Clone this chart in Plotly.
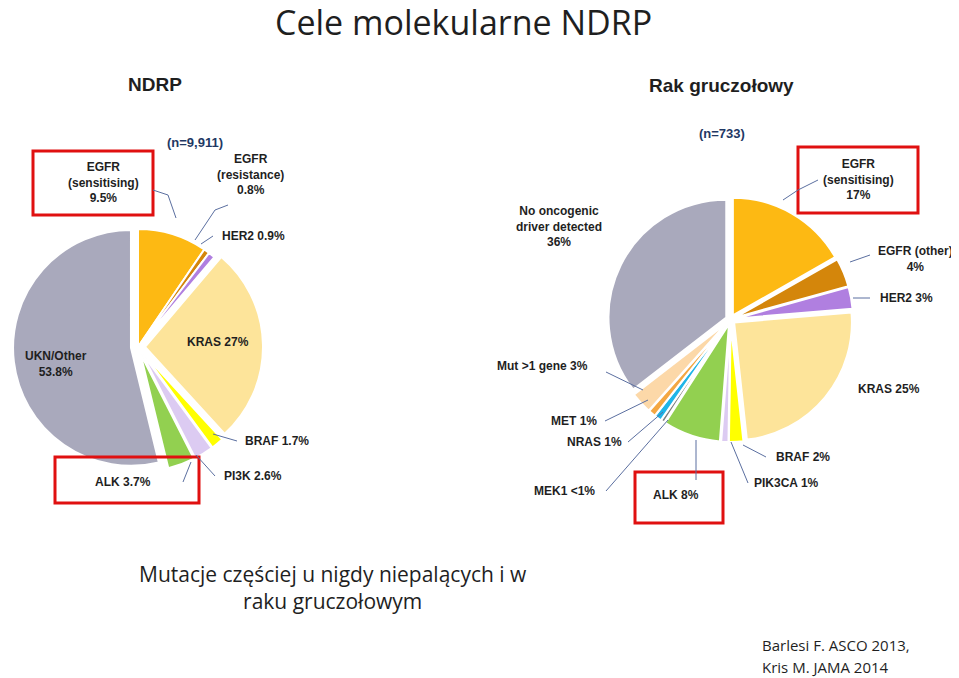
import plotly.graph_objects as go

W, H = 959, 678
DY = -8
left_labels = ["EGFR (sensitising)", "EGFR (resistance)", "HER2", "KRAS", "BRAF", "PI3K", "ALK", "UKN/Other"]
left_values = [9.5, 0.8, 0.9, 27, 1.7, 2.6, 3.7, 53.8]
left_colors = ["#FDB913", "#D4860B", "#B07FE0", "#FDE49A", "#FFFF00", "#DCCBF2", "#92D050", "#A9A9BC"]
left_pull = [0.0, 0.0, 0.0, 0.06, 0.06, 0.06, 0.06, 0.06]

right_labels = ["EGFR (sensitising)", "EGFR (other)", "HER2", "KRAS", "BRAF", "PIK3CA", "ALK", "MEK1", "NRAS", "MET", "Mut >1 gene", "No oncogenic driver detected"]
right_values = [17, 4, 3, 25, 2, 1, 8, 0.5, 1, 1, 3, 36]
right_colors = ["#FDB913", "#D4860B", "#B07FE0", "#FDE49A", "#FFFF00", "#DCCBF2", "#92D050", "#7F7F7F", "#1FB5E8", "#F4A742", "#FCD8A8", "#A9A9BC"]
right_pull = [0.04] * 12

def px(x0, x1, y0, y1):
    return dict(x=[x0 / W, x1 / W], y=[1 - (y1 + DY) / H, 1 - (y0 + DY) / H])

fig = go.Figure()
fig.add_trace(go.Pie(labels=left_labels, values=left_values, marker=dict(colors=left_colors, line=dict(color="white", width=2)),
                     sort=False, direction="clockwise", rotation=0, pull=left_pull, textinfo="none",
                     hoverinfo="label+value", domain=px(5, 255, 222, 472), showlegend=False))
fig.add_trace(go.Pie(labels=right_labels, values=right_values, marker=dict(colors=right_colors, line=dict(color="white", width=2)),
                     sort=False, direction="clockwise", rotation=0, pull=right_pull, textinfo="none",
                     hoverinfo="label+value", domain=px(600, 845, 197, 442), showlegend=False))

ann = []
def t(x, y, text, size=14, color="#1F1F1F", align="center", family="Liberation Sans", xanchor="center"):
    ann.append(dict(x=x / W, y=1 - (y + DY) / H, xref="paper", yref="paper", text=text, showarrow=False,
                    font=dict(size=size, color=color, family=family), align=align, xanchor=xanchor, yanchor="middle"))
def b(s):
    return "<b>" + s + "</b>"

t(455, 22, "Cele molekularne NDRP", size=34, family="Open Sans")
t(147, 84, b("NDRP"), size=19)
t(713, 86, b("Rak gruczołowy"), size=19)
t(187, 142, b("(n=9,911)"), size=13, color="#1F3864")
t(714, 133, b("(n=733)"), size=13, color="#1F3864")
for x, y, s in [
    (95, 183, "EGFR<br>(sensitising)<br>9.5%"), (242, 175, "EGFR<br>(resistance)<br>0.8%"),
    (245, 236, "HER2 0.9%"), (210, 342, "KRAS 27%"), (48, 364, "UKN/Other<br>53.8%"),
    (269, 441, "BRAF 1.7%"), (245, 476, "PI3K 2.6%"), (115, 482, "ALK 3.7%"),
    (551, 226, "No oncogenic<br>driver detected<br>36%"), (850, 179, "EGFR<br>(sensitising)<br>17%"),
    (907, 259, "EGFR (other)<br>4%"), (898, 298, "HER2 3%"), (881, 389, "KRAS 25%"),
    (534, 366, "Mut >1 gene 3%"), (566, 421, "MET 1%"), (586, 442, "NRAS 1%"),
    (795, 457, "BRAF 2%"), (778, 483, "PIK3CA 1%"), (556, 491, "MEK1 <1%"),
    (668, 495, "ALK 8%")]:
    t(x, y, b(s), size=12)

t(325, 587, "Mutacje częściej u nigdy niepalących i w<br>raku gruczołowym", size=21, family="Open Sans")
t(752, 645, "Barlesi F. ASCO 2013,", size=15, family="Open Sans", xanchor="left")
t(752, 667, "Kris M. JAMA 2014", size=15, family="Open Sans", xanchor="left")

shapes = []
def Y(y):
    return 1 - (y + DY) / H
def box(x0, y0, x1, y1):
    shapes.append(dict(type="rect", xref="paper", yref="paper", x0=x0 / W, x1=x1 / W, y0=Y(y1), y1=Y(y0),
                       line=dict(color="#E01010", width=3)))
box(25, 151, 145, 215); box(47, 457, 191, 503); box(790, 147, 910, 213); box(627, 472, 715, 523)
def line(pts):
    p = "M " + " L ".join(f"{x / W},{Y(y)}" for x, y in pts)
    shapes.append(dict(type="path", xref="paper", yref="paper", path=p, line=dict(color="#5B6FA0", width=1)))
line([(145, 190), (160, 195), (168, 218)]); line([(220, 205), (207, 210), (187, 240)]); line([(205, 236), (193, 244)])
line([(229, 441), (205, 434)]); line([(207, 476), (188, 455)]); line([(175, 482), (183, 462)])
line([(810, 180), (790, 190), (775, 200)]); line([(862, 255), (842, 262)]); line([(862, 298), (845, 298)])
line([(598, 372), (635, 390)]); line([(597, 421), (640, 400)]); line([(620, 442), (655, 412)])
line([(758, 457), (735, 445)]); line([(740, 483), (723, 442)]); line([(598, 491), (660, 420)]); line([(688, 480), (688, 440)])

fig.update_layout(width=W, height=H, margin=dict(l=0, r=0, t=0, b=0), paper_bgcolor="white",
                  annotations=ann, shapes=shapes)
fig.write_html("out.html")
